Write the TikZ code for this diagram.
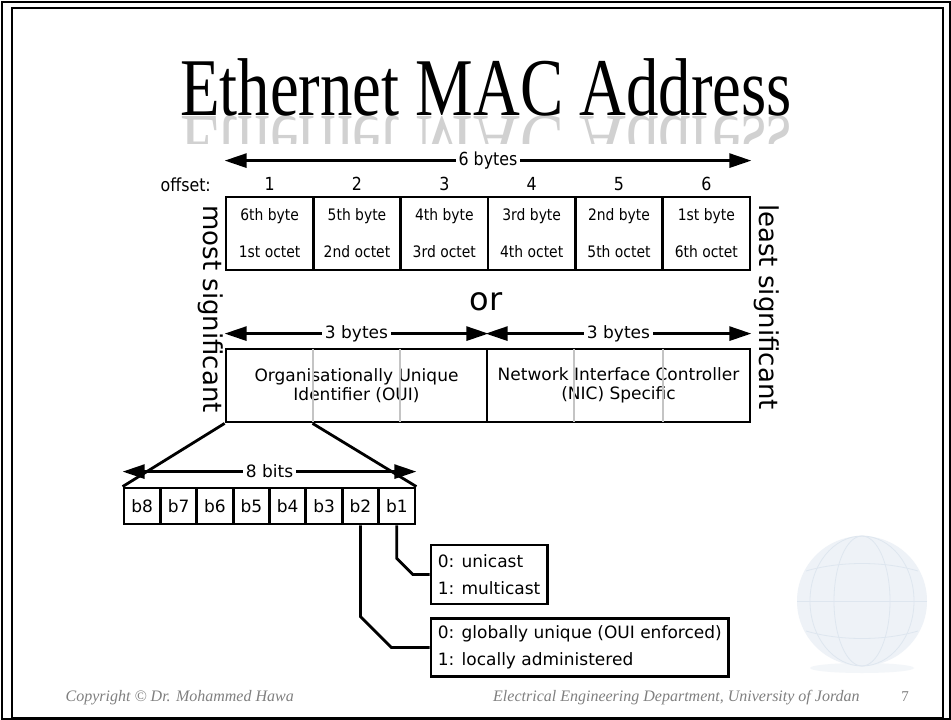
\documentclass[tikz,border=0pt]{standalone}
\usepackage{fontspec}
\setmainfont{Liberation Serif}
\newfontfamily\dv{DejaVu Sans}
\newfontfamily\dvc[FakeStretch=0.88]{DejaVu Sans}
\newfontfamily\ttl{Liberation Serif}
\usetikzlibrary{arrows.meta,calc}
\definecolor{footgray}{HTML}{808080}
\definecolor{sepgray}{HTML}{C4C4C4}
\definecolor{globefill}{HTML}{EEF2F7}
\definecolor{globeline}{HTML}{DEE6EF}
\begin{document}
\begin{tikzpicture}[x=1pt,y=-1pt,
  lw/.style={line width=2.8pt},
  cellbox/.style={draw,line width=2.8pt,minimum width=87.33pt,minimum height=73pt,inner sep=0pt,align=center,font=\dvc\fontsize{15.8}{18}\selectfont},
  bitbox/.style={draw,line width=2.8pt,minimum width=36.375pt,minimum height=36pt,inner sep=0pt,font=\dv\fontsize{17}{20}\selectfont},
  bigbox/.style={draw,line width=2.8pt,minimum height=73pt,inner sep=0pt,align=center,font=\dv\fontsize{17}{19}\selectfont},
  infobox/.style={draw,line width=2.8pt,anchor=west,align=left,inner xsep=7pt,inner ysep=0pt,font=\dv\fontsize{17}{27.5}\selectfont},
  dimarrow/.style={line width=2.8pt,{Triangle[length=22pt,width=14pt]}-{Triangle[length=22pt,width=14pt]}},
  dimlabel/.style={fill=white,inner xsep=3pt,inner ysep=1pt},
  digit/.style={font=\dvc\fontsize{18}{20}\selectfont,inner sep=0pt},
  sidetext/.style={rotate=-90,font=\dv\fontsize{26}{30}\selectfont,inner sep=0pt},
  sepline/.style={sepgray,line width=2pt,shorten <=1.5pt,shorten >=1.5pt},
  foot/.style={text=footgray,inner sep=0pt,font=\ttl\itshape\fontsize{16}{18}\selectfont}
]
\useasboundingbox (0,0) rectangle (951,720);
\fill[white] (0,0) rectangle (951,720);
% slide frame
\draw[line width=2pt] (1.5,1.5) rectangle (949.5,718.5);
\draw[line width=1.2pt] (12,8) rectangle (943,718);

% globe decoration
\fill[globefill!70] (862,668) ellipse (52 and 5);
\fill[globefill] (862,601) circle (65);
\draw[globeline,line width=0.8pt] (862,601) ellipse (28 and 65);
\draw[globeline,line width=0.8pt] (862,601) ellipse (52 and 65);
\draw[globeline,line width=0.8pt] (797,601) -- (927,601);
\draw[globeline,line width=0.8pt] (806,571) .. controls (840,561) and (884,561) .. (918,571);
\draw[globeline,line width=0.8pt] (806,631) .. controls (840,641) and (884,641) .. (918,631);

% title with reflection
\node[anchor=base,inner sep=0pt,font=\ttl\fontsize{82}{90}\selectfont] (title) at (486,115) {\scalebox{0.79}[1]{Ethernet MAC Address}};
\begin{scope}
  \clip (100,116) rectangle (860,143);
  \node[anchor=base,inner sep=0pt,text=black!18,font=\ttl\fontsize{82}{90}\selectfont] (titlerefl) at (486,116) {\scalebox{0.79}[-1]{Ethernet MAC Address}};
\end{scope}

% top row of 6 cells
\node[cellbox] (c1) at (269.67,233.5) {6th byte\\[19pt]1st octet};
\node[cellbox] (c2) at (357.00,233.5) {5th byte\\[19pt]2nd octet};
\node[cellbox] (c3) at (444.33,233.5) {4th byte\\[19pt]3rd octet};
\node[cellbox] (c4) at (531.67,233.5) {3rd byte\\[19pt]4th octet};
\node[cellbox] (c5) at (619.00,233.5) {2nd byte\\[19pt]5th octet};
\node[cellbox] (c6) at (706.33,233.5) {1st byte\\[19pt]6th octet};

\node[digit] (o1) at ($(c1.north)+(0,-12)$) {1};
\node[digit] (o2) at ($(c2.north)+(0,-12)$) {2};
\node[digit] (o3) at ($(c3.north)+(0,-12)$) {3};
\node[digit] (o4) at ($(c4.north)+(0,-12)$) {4};
\node[digit] (o5) at ($(c5.north)+(0,-12)$) {5};
\node[digit] (o6) at ($(c6.north)+(0,-12)$) {6};
\node[digit,anchor=east] (offs) at (211,185) {offset:};

\draw[dimarrow] ($(c1.north west)+(0,-35)$) -- node[dimlabel,font=\dvc\fontsize{18}{20}\selectfont] (sixlbl) {6 bytes} ($(c6.north east)+(0,-35)$);

% side labels
\node[sidetext] (msig) at (211,309) {most significant};
\node[sidetext] (lsig) at (767,307) {least significant};

\node[font=\dv\fontsize{32}{36}\selectfont,inner sep=0pt] (orlbl) at (486,302) {or};

% OUI / NIC boxes
\node[bigbox,minimum width=261pt] (oui) at (356.5,385.5) {Organisationally Unique\\Identifier (OUI)};
\node[bigbox,minimum width=263pt] (nic) at (618.5,385.5) {Network Interface Controller\\(NIC) Specific};
\draw[sepline] ($(oui.north west)!1/3!(oui.north east)$) -- ($(oui.south west)!1/3!(oui.south east)$);
\draw[sepline] ($(oui.north west)!2/3!(oui.north east)$) -- ($(oui.south west)!2/3!(oui.south east)$);
\draw[sepline] ($(nic.north west)!1/3!(nic.north east)$) -- ($(nic.south west)!1/3!(nic.south east)$);
\draw[sepline] ($(nic.north west)!2/3!(nic.north east)$) -- ($(nic.south west)!2/3!(nic.south east)$);
\draw[dimarrow] ($(oui.north west)+(0,-14)$) -- node[dimlabel,font=\dv\fontsize{17}{19}\selectfont] (b3l) {3 bytes} ($(oui.north east)+(0,-14)$);
\draw[dimarrow] ($(nic.north west)+(0,-14)$) -- node[dimlabel,font=\dv\fontsize{17}{19}\selectfont] (b3r) {3 bytes} ($(nic.north east)+(0,-14)$);
\coordinate (ouicut) at ($(oui.south west)!1/3!(oui.south east)$);

% bits
\node[bitbox] (b8) at (142.19,506) {b8};
\node[bitbox] (b7) at (178.56,506) {b7};
\node[bitbox] (b6) at (214.94,506) {b6};
\node[bitbox] (b5) at (251.31,506) {b5};
\node[bitbox] (b4) at (287.69,506) {b4};
\node[bitbox] (b3) at (324.06,506) {b3};
\node[bitbox] (b2) at (360.44,506) {b2};
\node[bitbox] (b1) at (396.81,506) {b1};

\draw[lw] (oui.south west) -- (b8.north west);
\draw[lw] (ouicut) -- (b1.north east);
\draw[dimarrow] ($(b8.north west)+(0,-15)$) -- node[dimlabel,font=\dv\fontsize{17}{19}\selectfont] (bitslbl) {8 bits} ($(b1.north east)+(0,-15)$);

% explanation boxes
\node[infobox,minimum height=59pt] (uni) at (429.5,574.5) {0: unicast\\1: multicast};
\node[infobox,minimum height=58pt] (glob) at (429.5,647.5) {0: globally unique (OUI enforced)\\1: locally administered};
\draw[lw] (b1.south) -- ($(b1.south |- uni.west)+(0,-16)$) -- ($(b1.south |- uni.west)+(16,0)$) -- (uni.west);
\draw[lw] (b2.south) -- ($(b2.south |- glob.west)+(0,-31)$) -- ($(b2.south |- glob.west)+(31,0)$) -- (glob.west);

% footer
\node[foot,anchor=base east] (copy) at (294,701) {Copyright © Dr. Mohammed Hawa};
\node[foot,anchor=base west] (dept) at (493,701) {Electrical Engineering Department, University of Jordan};
\node[anchor=base,inner sep=0pt,text=footgray,font=\ttl\fontsize{15}{18}\selectfont] (pg) at (905,701) {7};
\end{tikzpicture}
\end{document}
